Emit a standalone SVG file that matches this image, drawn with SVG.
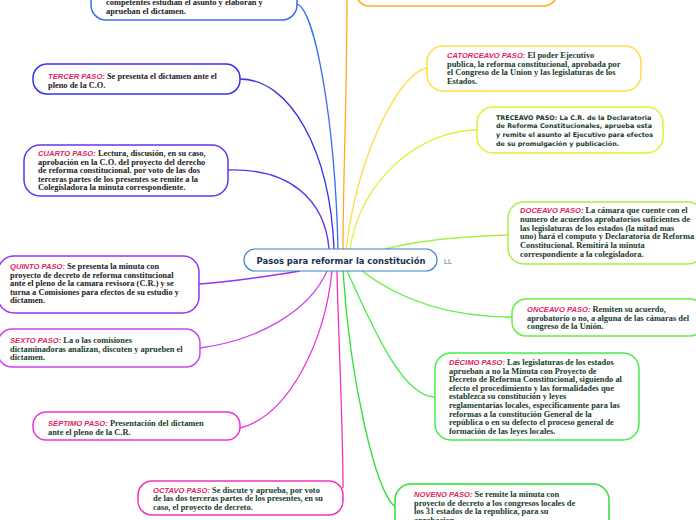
<svg xmlns="http://www.w3.org/2000/svg" width="696" height="520" viewBox="0 0 696 520">
<style>
.bg{fill:#ffffff}
.c{fill:none;stroke-width:1.3}
.n{fill:#ffffff;stroke-width:1.5}
.t{font-family:"Liberation Serif","Times New Roman",serif;font-weight:bold;font-size:8.4px;fill:#183c2a}
.tk{fill:#1c1c1c}
.h{font-family:"Liberation Sans",Arial,sans-serif;font-style:italic;font-weight:bold;font-size:7.6px;fill:#e0245e}
.s{font-family:"DejaVu Sans","Liberation Sans",sans-serif;font-weight:bold;font-size:6.4px;fill:#183c2a}
.ct{font-family:"DejaVu Sans","Liberation Sans",sans-serif;font-weight:bold;font-size:8.4px;fill:#1e3050}
</style>
<rect class="bg" x="0" y="0" width="696" height="520"/>
<g id="connectors">
<path class="c" stroke="#3a6cf5" d="M297,4 C315,10 335,120 338,249"/>
<path class="c" stroke="#3333ee" d="M240,79 C290,79 330,150 334,249"/>
<path class="c" stroke="#6633ee" d="M228,170 C290,168 325,200 329,249"/>
<path class="c" stroke="#9933ee" d="M199,284 C240,281 270,276 300,271"/>
<path class="c" stroke="#cc44ee" d="M200,348 C260,340 310,310 327,271"/>
<path class="c" stroke="#ee33dd" d="M240,428 C290,415 325,340 332,271"/>
<path class="c" stroke="#ee33bb" d="M343,488 C343,420 338,330 337,271"/>
<path class="c" stroke="#33dd33" d="M395,507 C375,490 350,380 343,271"/>
<path class="c" stroke="#44ee44" d="M434,397 C400,395 370,320 347,271"/>
<path class="c" stroke="#66ee44" d="M512,317 C450,317 400,300 362,271"/>
<path class="c" stroke="#aaee44" d="M508,235 C470,236 420,240 385,249"/>
<path class="c" stroke="#e5ee33" d="M477,130 C420,130 360,180 350,249"/>
<path class="c" stroke="#ffdd44" d="M427,68 C405,70 360,140 346,249"/>
<path class="c" stroke="#ffaa22" d="M347,-10 C347,100 343,180 343,249"/>
</g>
<g id="center">
<rect x="244" y="249" width="193" height="22" rx="11" fill="#ffffff" stroke="#3b82c4" stroke-width="1.2"/>
<text class="ct" x="341" y="264" text-anchor="middle">Pasos para reformar la constitución</text>
<text x="444" y="264" font-family="Liberation Sans, Arial, sans-serif" font-size="7" fill="#3b6fb0">LL</text>
</g>
<g id="paso2">
<rect class="n" stroke="#3a6cf5" x="91" y="-40" width="206" height="60" rx="15"/>
<text class="t tk" x="106"><tspan x="106" y="5">competentes estudian el asunto y elaboran y</tspan><tspan x="106" y="13.5">aprueban el dictamen.</tspan></text>
</g>
<g id="paso3">
<rect class="n" stroke="#3333ee" x="33" y="64" width="207" height="30" rx="14"/>
<text class="t tk"><tspan x="48" y="79"><tspan class="h">TERCER PASO:</tspan> Se presenta el dictamen ante el</tspan><tspan x="48" y="87.5">pleno de la C.O.</tspan></text>
</g>
<g id="paso4">
<rect class="n" stroke="#6633ee" x="24" y="145" width="204" height="51" rx="16"/>
<text class="t tk"><tspan x="38" y="156"><tspan class="h">CUARTO PASO:</tspan> Lectura, discusión, en su caso,</tspan><tspan x="38" y="164.5">aprobación en la C.O. del proyecto del derecho</tspan><tspan x="38" y="173">de reforma constitucional. por voto de las dos</tspan><tspan x="38" y="181.5">terceras partes de los presentes se remite a la</tspan><tspan x="38" y="190">Colegisladora la minuta correspondiente.</tspan></text>
</g>
<g id="paso5">
<rect class="n" stroke="#9933ee" x="-2" y="256" width="201" height="57" rx="16"/>
<text class="t tk"><tspan x="10" y="269"><tspan class="h">QUINTO PASO:</tspan> Se presenta la minuta con</tspan><tspan x="10" y="277.5">proyecto de decreto de reforma constitucional</tspan><tspan x="10" y="286">ante el pleno de la camara revisora (C.R.) y se</tspan><tspan x="10" y="294.5">turna a Comisiones para efectos de su estudio y</tspan><tspan x="10" y="303">dictamen.</tspan></text>
</g>
<g id="paso6">
<rect class="n" stroke="#cc44ee" x="-2" y="329" width="202" height="38" rx="14"/>
<text class="t"><tspan x="10" y="343"><tspan class="h">SEXTO PASO:</tspan> La o las comisiones</tspan><tspan x="10" y="351.5">dictaminadoras analizan, discuten y aprueben el</tspan><tspan x="10" y="360">dictamen.</tspan></text>
</g>
<g id="paso7">
<rect class="n" stroke="#ee33dd" x="33" y="412" width="207" height="28" rx="13"/>
<text class="t"><tspan x="48" y="426"><tspan class="h">SÉPTIMO PASO:</tspan> Presentación del dictamen</tspan><tspan x="48" y="434.5">ante el pleno de la C.R.</tspan></text>
</g>
<g id="paso8">
<rect class="n" stroke="#ee33bb" x="138" y="481" width="205" height="34" rx="14"/>
<text class="t"><tspan x="153" y="492.5"><tspan class="h">OCTAVO PASO:</tspan> Se discute y aprueba, por voto</tspan><tspan x="153" y="501">de las dos terceras partes de los presentes, en su</tspan><tspan x="153" y="509.5">caso, el proyecto de decreto.</tspan></text>
</g>
<g id="paso9">
<rect class="n" stroke="#33dd33" x="395" y="484" width="214" height="60" rx="16"/>
<text class="t"><tspan x="414" y="497"><tspan class="h">NOVENO PASO:</tspan> Se remite la minuta con</tspan><tspan x="414" y="505.5">proyecto de decreto a los congresos locales de</tspan><tspan x="414" y="514">los 31 estados de la republica, para su</tspan><tspan x="414" y="522.5">aprobacion.</tspan></text>
</g>
<g id="paso10">
<rect class="n" stroke="#44ee44" x="435" y="353" width="204" height="87" rx="16"/>
<text class="t"><tspan x="449" y="365"><tspan class="h">DÉCIMO PASO:</tspan> Las legislaturas de los estados</tspan><tspan x="449" y="373.6">aprueban a no la Minuta con Proyecto de</tspan><tspan x="449" y="382.2">Decreto de Reforma Constitucional, siguiendo al</tspan><tspan x="449" y="390.8">efecto el procedimiento y las formalidades que</tspan><tspan x="449" y="399.4">establezca su constitución y leyes</tspan><tspan x="449" y="408">reglamentarias locales, especificamente para las</tspan><tspan x="449" y="416.6">reformas a la constitución General de la</tspan><tspan x="449" y="425.2">república o en su defecto el proceso general de</tspan><tspan x="449" y="433.8">formación de las leyes locales.</tspan></text>
</g>
<g id="paso11">
<rect class="n" stroke="#66ee44" x="512" y="299" width="192" height="37" rx="14"/>
<text class="t"><tspan x="527" y="312"><tspan class="h">ONCEAVO PASO:</tspan> Remiten su acuerdo,</tspan><tspan x="527" y="320.5">aprobatorio o no, a alguna de las cámaras del</tspan><tspan x="527" y="329">congreso de la Unión.</tspan></text>
</g>
<g id="paso12">
<rect class="n" stroke="#aaee44" x="508" y="202" width="196" height="62" rx="16"/>
<text class="t"><tspan x="520" y="213"><tspan class="h">DOCEAVO PASO:</tspan> La cámara que cuente con el</tspan><tspan x="520" y="221.8">numero de acuerdos aprobatorios suficientes de</tspan><tspan x="520" y="230.6">las legislaturas de los estados (la mitad mas</tspan><tspan x="520" y="239.4">uno) hará el computo y Declaratoria de Reforma</tspan><tspan x="520" y="248.2">Constitucional. Remitirá la minuta</tspan><tspan x="520" y="257">correspondiente a la colegisladora.</tspan></text>
</g>
<g id="paso13">
<rect class="n" stroke="#e5ee33" x="477" y="107" width="186" height="46" rx="16"/>
<text class="s"><tspan x="496" y="119.5">TRECEAVO PASO: La C.R. de la Declaratoria</tspan><tspan x="496" y="128.2">de Reforma Constitucionales, aprueba esta</tspan><tspan x="496" y="136.9">y remite el asunto al Ejecutivo para efectos</tspan><tspan x="496" y="145.6">de su promulgación y publicación.</tspan></text>
</g>
<g id="paso14">
<rect class="n" stroke="#ffdd44" x="427" y="46" width="214" height="45" rx="16"/>
<text class="t"><tspan x="447" y="58"><tspan class="h">CATORCEAVO PASO:</tspan> El poder Ejecutivo</tspan><tspan x="447" y="66.5">publica, la reforma constitucional, aprobada por</tspan><tspan x="447" y="75">el Congreso de la Union y las legislaturas de los</tspan><tspan x="447" y="83.5">Estados.</tspan></text>
</g>
<g id="paso15">
<rect class="n" stroke="#ffaa22" x="355" y="-50" width="203" height="56" rx="15"/>
</g>
</svg>
